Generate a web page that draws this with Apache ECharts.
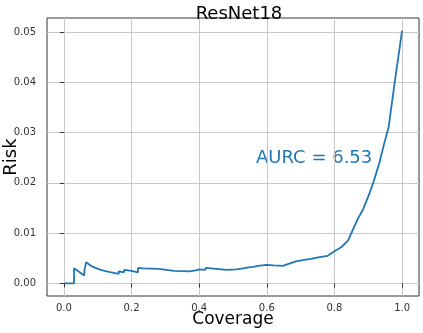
<!DOCTYPE html>
<html>
<head>
<meta charset="utf-8">
<script src="https://cdn.jsdelivr.net/npm/echarts@6/dist/echarts.min.js"></script>
<style>
  html, body { margin: 0; padding: 0; background: #fff; }
  #chart { width: 423px; height: 333px; }
</style>
</head>
<body>
<div id="chart"></div>
<script>
// risk-coverage curve
const coverage = [0, 0.03, 0.03, 0.06, 0.061, 0.064, 0.066, 0.08, 0.1, 0.12, 0.14, 0.162,
  0.162, 0.178, 0.178, 0.2, 0.219, 0.219, 0.235, 0.24, 0.28, 0.325, 0.326, 0.37, 0.372,
  0.39, 0.4, 0.418, 0.42, 0.45, 0.48, 0.51, 0.53, 0.545, 0.56, 0.573, 0.6, 0.62, 0.647,
  0.66, 0.686, 0.71, 0.73, 0.76, 0.78, 0.8, 0.82, 0.84, 0.858, 0.87, 0.883, 0.903, 0.917,
  0.932, 0.947, 0.96, 0.979, 1.0];
const risk = [0, 0, 0.0030, 0.0016, 0.0028, 0.0026, 0.0042, 0.0035, 0.0029, 0.0025, 0.0022, 0.0019,
  0.0024, 0.0022, 0.0027, 0.0025, 0.0022, 0.0031, 0.0030, 0.0033, 0.0029, 0.0025, 0.0027, 0.0024, 0.0026,
  0.0026, 0.0028, 0.0027, 0.0031, 0.0029, 0.0027, 0.0028, 0.0030, 0.0032, 0.0033, 0.0035, 0.0037, 0.0036, 0.0035,
  0.0038, 0.0044, 0.0047, 0.0049, 0.0053, 0.0055, 0.0064, 0.0072, 0.0085, 0.0112, 0.0130, 0.0145, 0.0178, 0.0205,
  0.0238, 0.0278, 0.0310, 0.0404, 0.0503];
const xTicks = [0, 0.2, 0.4, 0.6, 0.8, 1.0];
const yTicks = [0, 0.01, 0.02, 0.03, 0.04, 0.05];
const aurcLabel = 'AURC = 6.53';

const font = 'DejaVu Sans';
const chart = echarts.init(document.getElementById('chart'));

chart.setOption({
  animation: false,
  textStyle: { fontFamily: font },
  title: {
    text: 'ResNet18',
    left: 234,
    textAlign: 'center',
    top: 0,
    textStyle: { fontFamily: font, fontSize: 18, fontWeight: 'normal', color: '#000' }
  },
  grid: {
    left: 47, right: 4, top: 18, bottom: 37,
    outerBoundsMode: 'none',
    containLabel: false,
    show: true, borderColor: '#333', borderWidth: 1
  },
  xAxis: {
    type: 'value',
    min: -0.05, max: 1.05,
    name: 'Coverage',
    nameLocation: 'middle',
    nameGap: 15,
    nameMoveOverlap: false,
    nameTextStyle: { fontFamily: font, fontSize: 17, color: '#000' },
    axisLine: { show: false },
    axisTick: { show: true, length: 4, customValues: xTicks, lineStyle: { color: '#333' } },
    axisLabel: {
      customValues: xTicks, margin: 7, fontSize: 10, color: '#333',
      formatter: v => v.toFixed(1)
    },
    splitLine: { show: true, customValues: xTicks, lineStyle: { color: '#c8c8c8', width: 1 } }
  },
  yAxis: {
    type: 'value',
    min: -0.0025, max: 0.0528,
    name: 'Risk',
    nameLocation: 'middle',
    nameGap: 27,
    nameRotate: 90,
    nameMoveOverlap: false,
    nameTextStyle: { fontFamily: font, fontSize: 18, color: '#000' },
    axisLine: { show: false },
    axisTick: { show: true, length: 4, customValues: yTicks, lineStyle: { color: '#333' } },
    axisLabel: {
      customValues: yTicks, margin: 11, fontSize: 10, color: '#333',
      formatter: v => v.toFixed(2)
    },
    splitLine: { show: true, customValues: yTicks, lineStyle: { color: '#c8c8c8', width: 1 } }
  },
  graphic: [{
    type: 'text',
    left: 256,
    top: 149,
    style: { text: aurcLabel, fontFamily: font, fontSize: 18, fill: '#1f77b4' }
  }],
  series: [{
    type: 'line',
    data: coverage.map((c, i) => [c, risk[i]]),
    showSymbol: false,
    lineStyle: { color: '#1f77b4', width: 1.8 },
    itemStyle: { color: '#1f77b4' }
  }]
});
</script>
</body>
</html>
